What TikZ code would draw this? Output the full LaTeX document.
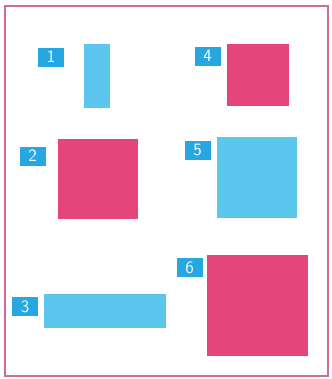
\documentclass[tikz,border=0pt]{standalone}
\usetikzlibrary{positioning}
\definecolor{skyb}{HTML}{5CC6EF}
\definecolor{rose}{HTML}{E4467C}
\definecolor{tagb}{HTML}{27A7E1}
\definecolor{frm}{HTML}{D36C93}
\begin{document}
\begin{tikzpicture}[x=0.75pt,y=-0.75pt,font=\sffamily,
tag/.style={fill=tagb,text=white,inner sep=0pt,minimum width=19.5pt,minimum height=14.25pt,font=\sffamily\fontsize{13}{13}\selectfont},
cyanbox/.style={fill=skyb,inner sep=0pt},
pinkbox/.style={fill=rose,inner sep=0pt}]
\useasboundingbox (0,0) rectangle (332,379);
\draw[frm,line width=0.8pt] (5,6) rectangle (328,376);
% first column
\node[cyanbox,minimum width=19.5pt,minimum height=48pt] (r1) at (97,76) {};
\node[tag] (t1) at (51,57) {1};
\node[pinkbox,minimum width=60pt,minimum height=60pt] (r2) at (98,179) {};
\node[tag] (t2) at (32.5,156) {2};
\node[cyanbox,minimum width=91.5pt,minimum height=25.5pt] (r3) at (105,311) {};
\node[tag] (t3) at (25,306.5) {3};
% second column
\node[pinkbox,minimum width=46.5pt,minimum height=46.5pt] (r4) at (258,75) {};
\node[tag] (t4) at (207.5,56) {4};
\node[cyanbox,minimum width=60pt,minimum height=60.75pt] (r5) at (257,177.5) {};
\node[tag] (t5) at (197.5,150) {5};
\node[pinkbox,minimum width=75.75pt,minimum height=75.75pt] (r6) at (257.5,305.5) {};
\node[tag] (t6) at (189.5,267.5) {6};
\end{tikzpicture}
\end{document}
